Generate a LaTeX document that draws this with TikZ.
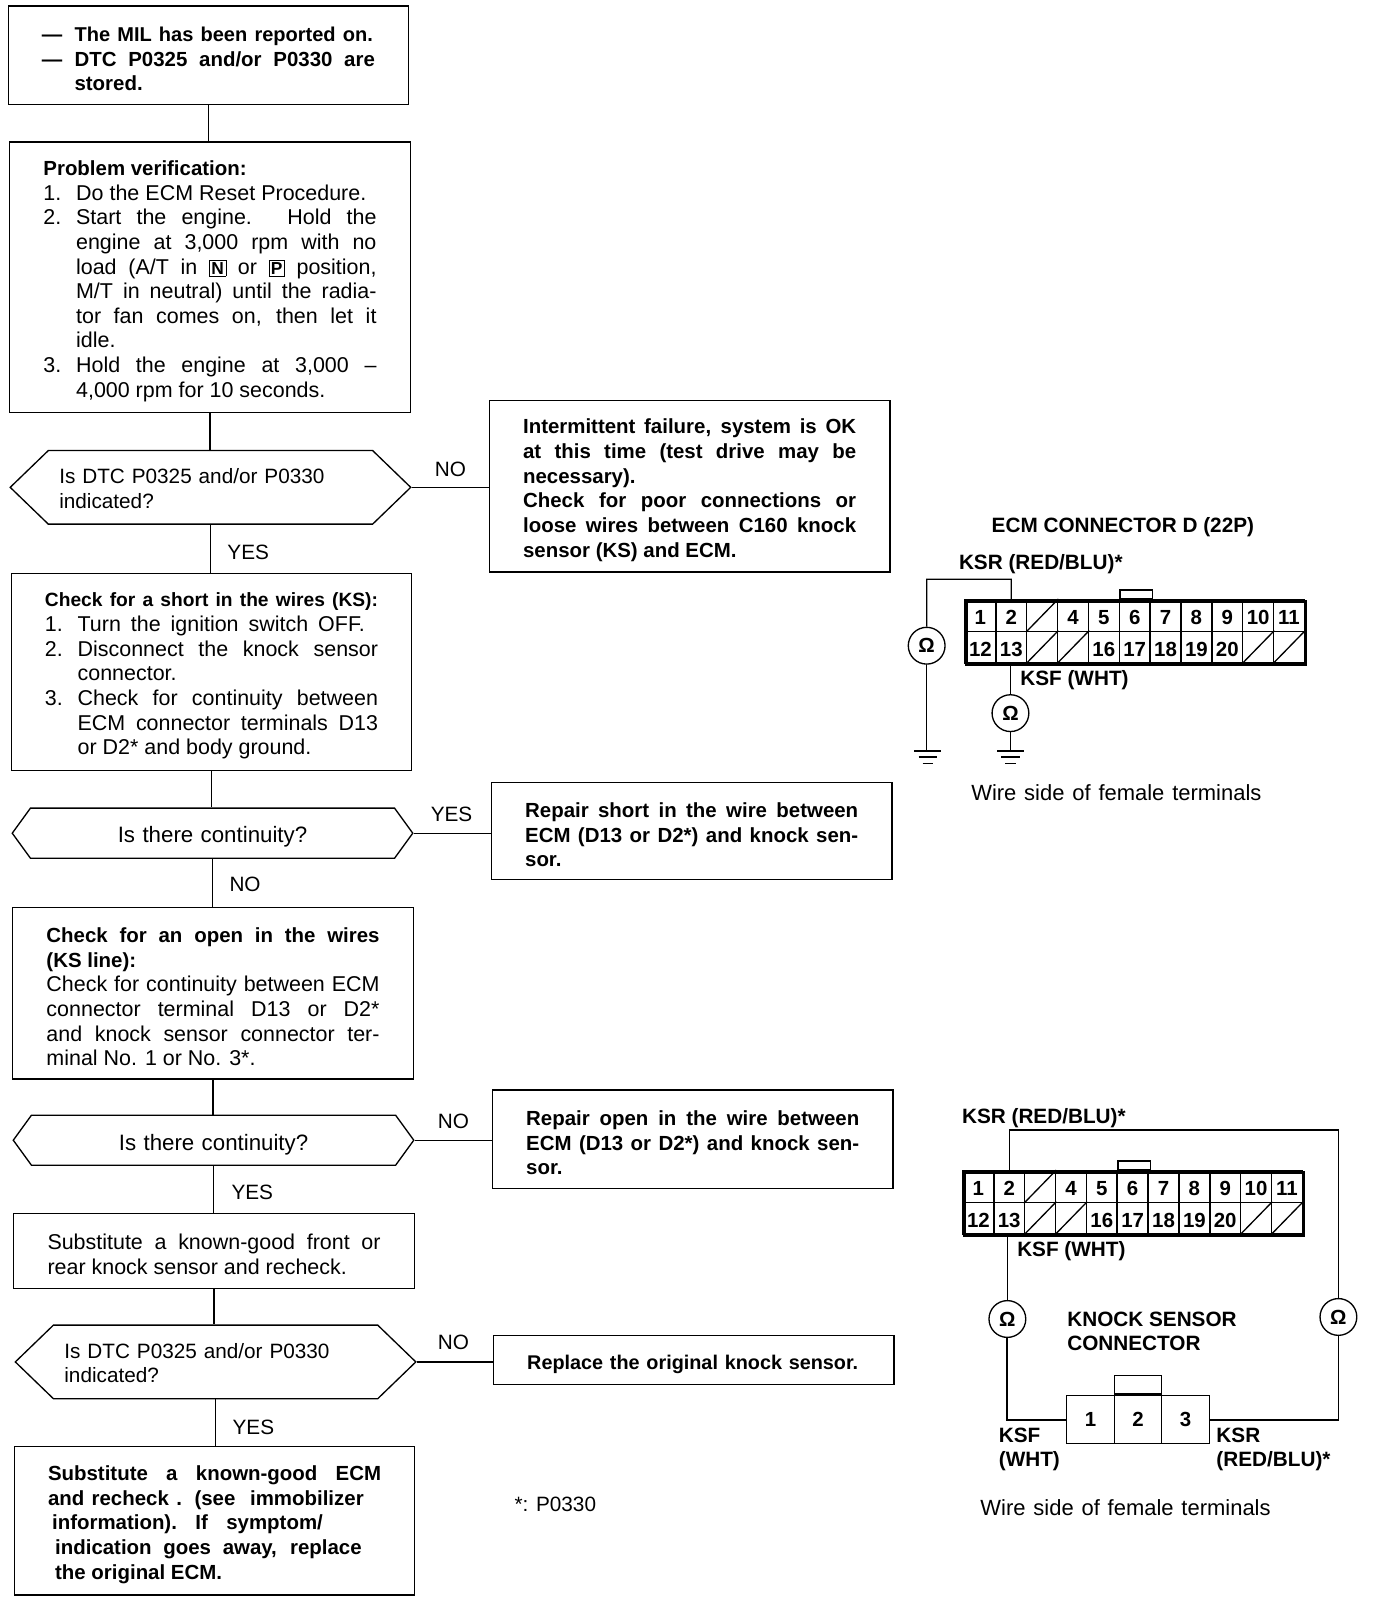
\documentclass[tikz,border=0pt]{standalone}
\usepackage{fontspec}
\setmainfont{Liberation Sans}
\usetikzlibrary{shapes.symbols}
\newcommand{\fullline}[2][\linewidth]{\makebox[#1][s]{#2}}
\newcommand{\numline}[2]{\makebox[32pt][l]{#1}#2}
\newcommand{\hangline}[1]{\hspace*{32pt}#1}
\newcommand{\tagbox}[1]{\smash{\fboxsep=1.8pt\fbox{\fontsize{17}{17}\selectfont\bfseries #1}}}
\newcommand{\celltext}[1]{\ifnum#1=3 \else\ifnum#1=14 \else\ifnum#1=15 \else\ifnum#1=21 \else\ifnum#1=22 \else#1\fi\fi\fi\fi\fi}
\newcommand{\ecmblock}[3]{%
  \foreach \n [evaluate=\n as \col using int(\n>11 ? \n-11 : \n), evaluate=\n as \rw using int(\n>11 ? 1 : 0)] in {1,...,22}
    \node[cell] (#1\n) at ({#2+(\col-.5)*30.2},{#3+(\rw+.5)*31}) {\celltext{\n}};
  \foreach \n in {3,14,15,21,22}
    \draw (#1\n.south west) -- (#1\n.north east);
  \node[draw, line width=3pt, minimum width=332.2pt, minimum height=62pt, inner sep=0pt, anchor=north west] (#1) at (#2,#3) {};
  \node[draw, line width=1.6pt, minimum width=32pt, minimum height=9pt, inner sep=0pt, anchor=south] (#1key) at (#1.north) {};
}
\begin{document}
\begin{tikzpicture}[x=1pt, y=-1pt, line width=1.3pt,
    txt/.style = {font=\fontsize{21}{24.1}\selectfont},
    bold/.style = {font=\fontsize{20}{24.1}\selectfont\bfseries},
    box/.style = {draw, txt, align=left, text width=326pt, inner xsep=33pt, inner ysep=0pt, minimum height=#1, execute at begin node={\spaceskip=0pt\xspaceskip=0pt\rule{0pt}{22pt}}},
    hexa/.style = {draw, signal, signal to=west and east, signal pointer angle=#1, text width=296pt, inner xsep=0pt, inner ysep=0pt, minimum width=392pt, execute at begin node={\rule{0pt}{17pt}}},
    lab/.style = {font=\fontsize{20.3}{24.1}\selectfont, inner sep=0pt, anchor=west},
    blab/.style = {lab, font=\fontsize{20.3}{24.1}\selectfont\bfseries},
    cell/.style = {draw, line width=1.5pt, minimum width=30.2pt, minimum height=31pt, inner sep=0pt, text height=18pt, text depth=0pt, font=\fontsize{20}{24}\selectfont\bfseries},
    ohm/.style = {draw, circle, minimum size=36pt, inner sep=0pt, font=\fontsize{20}{24}\selectfont\bfseries},
    kscell/.style = {draw, line width=1.5pt, minimum height=47pt, inner sep=0pt, font=\fontsize{20}{24}\selectfont\bfseries}]
    \useasboundingbox (0,0) rectangle (1346.6,1568);

    \node[box=96pt, bold] (start) at (204,54) {\fullline[324pt]{\makebox[32pt][l]{---}\fontsize{19.6}{24.1}\selectfont The MIL has been reported on.}\\ \fullline{\makebox[32pt][l]{---}DTC P0325 and/or P0330 are}\\ \hangline{stored.}};
    \node[box=265pt] (verify) at (205.5,271.5) {\textbf{\fontsize{20}{24.1}\selectfont Problem verification:}\\ \fullline[316pt]{\numline{1.}{Do the ECM Reset Procedure.}}\\ \fullline{\numline{2.}{Start the engine. Hold the}}\\ \fullline{\hangline{engine at 3,000 rpm with no}}\\ \fullline{\hangline{load (A/T in \tagbox{N} or \tagbox{P} position,}}\\ \fullline{\hangline{M/T in neutral) until the radia-}}\\ \fullline{\hangline{tor fan comes on, then let it}}\\ \hangline{idle.}\\ \fullline{\numline{3.}{Hold the engine at 3,000 --}}\\ \hangline{4,000 rpm for 10 seconds.}};
    \node[hexa=88, minimum height=72pt, font=\fontsize{20.3}{24.1}\selectfont] (ask1) at (206,477) {Is DTC P0325 and/or P0330\\ indicated?};
    \node[box=168pt, bold] (fail) at (675,476) {\fullline{Intermittent failure, system is OK}\\ \fullline{at this time (test drive may be}\\ necessary).\\ \fullline{Check for poor connections or}\\ \fullline{loose wires between C160 knock}\\ sensor (KS) and ECM.};
    \node[box=193pt] (short) at (207,657.5) {\fullline{\bfseries\fontsize{18.8}{24.1}\selectfont Check for a short in the wires (KS):}\\ \fullline[313pt]{\numline{1.}{Turn the ignition switch OFF.}}\\ \fullline{\numline{2.}{Disconnect the knock sensor}}\\ \hangline{connector.}\\ \fullline{\numline{3.}{Check for continuity between}}\\ \fullline{\hangline{ECM connector terminals D13}}\\ \hangline{or D2* and body ground.}};
    \node[hexa=108, minimum height=49pt, align=center, font=\fontsize{21.8}{24.1}\selectfont] (ask2) at (208,815.5) {\rule{0pt}{23pt}Is there continuity?};
    \node[box=95pt, bold] (fixshort) at (677,813.5) {\fullline{Repair short in the wire between}\\ \fullline{ECM (D13 or D2*) and knock sen-}\\ sor.};
    \node[box=168pt] (open) at (208.5,972) {\fullline{\textbf{\fontsize{20}{24.1}\selectfont Check for an open in the wires}}\\ \textbf{\fontsize{20}{24.1}\selectfont (KS line):}\\ \fullline{Check for continuity between ECM}\\ \fullline{connector terminal D13 or D2*}\\ \fullline{and knock sensor connector ter-}\\ minal No. 1 or No. 3*.};
    \node[hexa=108, minimum height=49pt, align=center, font=\fontsize{21.8}{24.1}\selectfont] (ask3) at (209,1116) {\rule{0pt}{24pt}Is there continuity?};
    \node[box=96pt, bold] (fixopen) at (678,1115) {\fullline{Repair open in the wire between}\\ \fullline{ECM (D13 or D2*) and knock sen-}\\ sor.};
    \node[box=73pt] (swapks) at (209.5,1224.5) {\fullline{Substitute a known-good front or}\\ rear knock sensor and recheck.};
    \node[hexa=88, minimum height=72pt, font=\fontsize{20.3}{24.1}\selectfont] (ask4) at (211,1333) {Is DTC P0325 and/or P0330\\ indicated?};
    \node[box=48pt, bold] (replace) at (679,1331) {\fullline[324pt]{\fontsize{19.4}{24.1}\selectfont Replace the original knock sensor.}};
    \node[box=145pt, bold] (swapecm) at (210,1488.5) {\fullline{Substitute a known-good ECM}\\ \fullline[309pt]{and recheck . (see\ \ immobilizer}\\ \fullline[269pt]{\hspace*{4pt}information). If\ \ symptom/}\\ \fullline[307pt]{\hspace*{7pt}indication goes away, replace}\\ \hspace*{7pt}the original ECM.};

    \draw (start.south) -- (start.south |- verify.north);
    \draw (verify.south) -- (verify.south |- ask1.north);
    \draw (ask1.south) -- (ask1.south |- short.north);
    \draw (short.south) -- (short.south |- ask2.north);
    \draw (ask2.south) -- (ask2.south |- open.north);
    \draw (open.south) -- (open.south |- ask3.north);
    \draw (ask3.south) -- (ask3.south |- swapks.north);
    \draw (swapks.south) -- (swapks.south |- ask4.north);
    \draw (ask4.south) -- (ask4.south |- swapecm.north);
    \draw (ask1.east) -- (ask1.east -| fail.west);
    \draw (ask2.east) -- (ask2.east -| fixshort.west);
    \draw (ask3.east) -- (ask3.east -| fixopen.west);
    \draw (ask4.east) -- (ask4.east -| replace.west);

    \node[lab] (no1) at (425,459) {NO};
    \node[lab] (yes1) at (222,541) {YES};
    \node[lab] (yes2) at (421,797) {YES};
    \node[lab] (no2) at (224,866) {NO};
    \node[lab] (no3) at (428,1098) {NO};
    \node[lab] (yes3) at (226,1167) {YES};
    \node[lab] (no4) at (428,1314) {NO};
    \node[lab] (yes4) at (227,1397) {YES};
    \node[lab] (note) at (503,1472) {*: P0330};

    \ecmblock{ecmA}{944.5}{587}
    \node[blab] (titleA) at (970,516) {ECM CONNECTOR D (22P)};
    \node[blab] (ksrA) at (938,552) {KSR (RED/BLU)*};
    \node[blab] (ksfA) at (998,666) {KSF (WHT)};
    \node[lab, font=\fontsize{21.5}{24.1}\selectfont] (sideA) at (950,776) {\makebox[284pt][s]{Wire side of female terminals}};
    \node[ohm] (ohmA) at (907,632) {Ω};
    \node[ohm] (ohmB) at (989,698) {Ω};
    \coordinate (kinkA) at (989.8,567);
    \coordinate (gndA) at (908,735);
    \coordinate (gndB) at (989,735);
    \draw (ohmA) |- (kinkA) -- (ecmA2.north);
    \draw (ohmA) -- (ohmA |- gndA);
    \draw (ohmB |- ecmA13.south) -- (ohmB);
    \draw (ohmB) -- (gndB);
    \foreach \g in {gndA,gndB} {
        \draw (\g) ++(-13,0) -- ++(26,0);
        \draw (\g) ++(-9,6) -- ++(18,0);
        \draw (\g) ++(-5,12) -- ++(10,0);
    }

    \ecmblock{ecmB}{942.5}{1146}
    \node[blab] (ksrB) at (941,1094) {KSR (RED/BLU)*};
    \node[blab] (ksfB) at (995,1225) {KSF (WHT)};
    \node[blab] (title) at (1044,1291) {KNOCK SENSOR};
    \node[blab] (titleB) at (1044,1315) {CONNECTOR};
    \node[kscell, minimum width=47pt] (ks1) at (1067.5,1389.5) {1};
    \node[kscell, minimum width=46pt] (ks2) at (1114,1389.5) {2};
    \node[kscell, minimum width=47pt] (ks3) at (1160.5,1389.5) {3};
    \node[draw, line width=1.5pt, minimum width=46pt, minimum height=18pt, inner sep=0pt, anchor=south] (ksk) at (ks2.north) {};
    \node[ohm] (ohmC) at (986,1291) {Ω};
    \node[ohm] (ohmD) at (1310,1289) {Ω};
    \coordinate (kinkB) at (1310,1106);
    \draw (ecmB2.north) |- (kinkB) -- (ohmD);
    \draw (ohmC |- ecmB13.south) -- (ohmC);
    \draw[line width=1.8pt] (ohmC) |- (ks1.west);
    \draw[line width=1.8pt] (ohmD) |- (ks3.east);
    \node[blab] (ksfC) at (977,1405) {KSF};
    \node[blab] (ksfD) at (977,1430) {(WHT)};
    \node[blab] (ksrC) at (1190,1405) {KSR};
    \node[blab] (ksrD) at (1190,1430) {(RED/BLU)*};
    \node[lab, font=\fontsize{21.5}{24.1}\selectfont] (sideB) at (959,1476) {\makebox[284pt][s]{Wire side of female terminals}};
\end{tikzpicture}
\end{document}
